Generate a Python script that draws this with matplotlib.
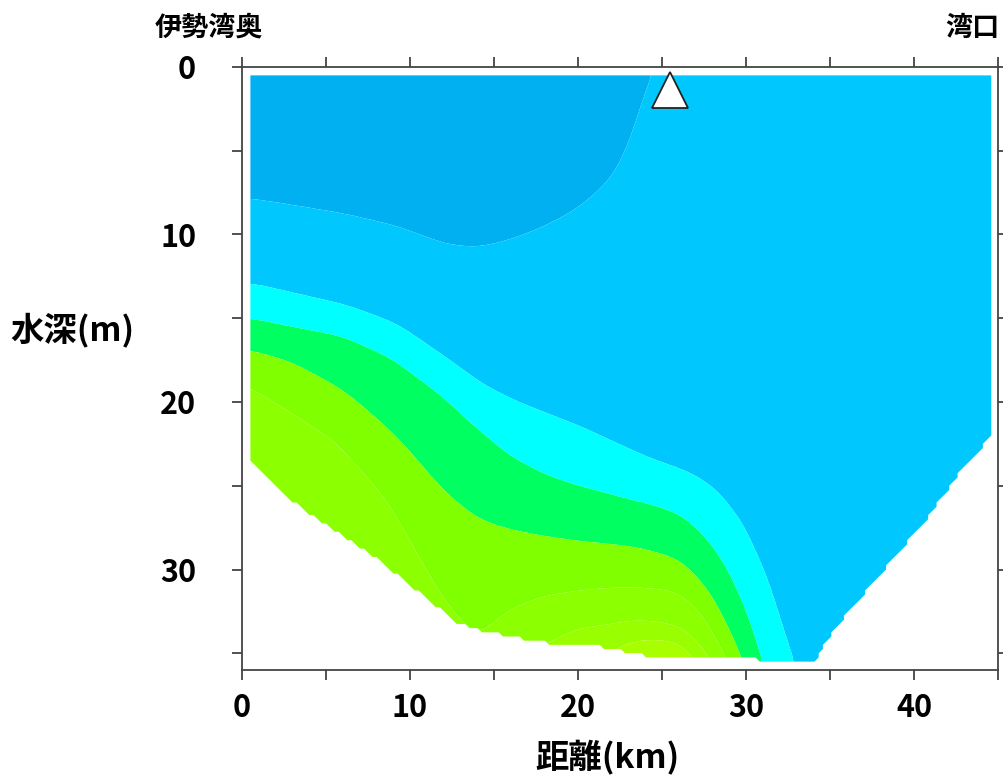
import numpy as np
import matplotlib
matplotlib.use("Agg")
import matplotlib.pyplot as plt

plt.rcParams['font.family'] = ['Noto Sans CJK JP', 'DejaVu Sans']

# ---- data ----
# station positions along the section (km)
stations_km = [0.5, 3, 6, 9, 12, 14, 16, 18, 20, 22, 23, 24, 26, 27.5, 29, 30.5, 32, 33.5, 36, 40, 44.6]
# depths (m) of each class boundary at each station (boundary k separates class k-1 / class k)
b1 = [8.0, 8.4, 8.9, 9.6, 10.7, 10.9, 10.4, 9.6, 8.5, 6.7, 4.8, 0.5, -3, -3, -3, -3, -3, -3, -3, -3, -3]
b2 = [13.0, 13.6, 14.3, 15.4, 17.5, 19.0, 20.0, 20.8, 21.6, 22.6, 23.1, 23.6, 24.3, 25.1, 26.8, 29.8, 34.6, 39, 40, 40, 40]
b3 = [15.0, 15.5, 16.0, 17.3, 19.5, 21.4, 23.2, 24.3, 25.0, 25.5, 25.8, 26.0, 26.6, 27.9, 30.0, 33.6, 39.5, 41, 41, 41, 41]
b4 = [16.9, 17.6, 19.3, 21.9, 25.3, 26.9, 27.6, 28.0, 28.3, 28.5, 28.6, 28.8, 29.4, 31.0, 34.0, 38, 42, 42, 42, 42, 42]
b5 = [18.7, 20.3, 22.3, 25.9, 31.7, 34.2, 32.4, 31.6, 31.3, 31.1, 31.1, 31.1, 31.3, 32.6, 35.3, 39, 43, 43, 43, 43, 43]
b6 = [40, 40, 40, 40, 40, 40, 36, 34.5, 33.5, 33.3, 33.1, 33.1, 33.4, 35.0, 38, 40, 44, 44, 44, 44, 44]
b7 = [41, 41, 41, 41, 41, 41, 41, 37, 36, 35.0, 34.4, 34.2, 34.3, 36, 39, 41, 45, 45, 45, 45, 45]
b8 = [42, 42, 42, 42, 42, 42, 42, 42, 38, 36.5, 35.5, 35.0, 35.1, 37, 40, 42, 46, 46, 46, 46, 46]

# bathymetry (bottom depth, m) along the section
bottom_km = [0.5, 3.45, 5.8, 7.8, 12.8, 13.6, 15.8, 18.3, 21.3, 24.3, 34.2, 34.6, 36.2, 37.8, 39.6, 41.0, 42.7, 44.1, 44.6]
bottom_m = [23.7, 26.4, 28.0, 29.3, 33.3, 33.6, 34.1, 34.5, 34.7, 35.3, 35.6, 34.7, 32.5, 30.7, 28.5, 26.8, 24.4, 22.8, 22.0]

class_colors = ['#00b0f0', '#00c8ff', '#00ffff', '#00ff60', '#80ff00',
                '#8cff00', '#99ff00', '#a8ff00', '#bcff00']

marker_km = 25.5
marker_m = 1.4

x_ticks = [0, 10, 20, 30, 40]
y_ticks = [0, 10, 20, 30]

# ---- build field ----
boundaries = np.array([b1, b2, b3, b4, b5, b6, b7, b8])
st = np.array(stations_km)
xg = np.linspace(0.5, 44.6, 177)
zg = np.linspace(0.5, 35.5, 141)
V = np.zeros((zg.size, xg.size))
for i, xv in enumerate(xg):
    d = [np.interp(xv, st, row) for row in boundaries]
    full = np.concatenate([[-10.0], d, [100.0]])
    V[:, i] = np.interp(zg, full, np.arange(full.size))


def smooth(a, sig, axis):
    r = int(3 * sig) + 1
    k = np.exp(-0.5 * (np.arange(-r, r + 1) / sig) ** 2)
    k /= k.sum()
    pad = [(0, 0), (0, 0)]
    pad[axis] = (r, r)
    ap = np.pad(a, pad, mode='edge')
    return np.apply_along_axis(lambda v: np.convolve(v, k, mode='valid'), axis, ap)


V = smooth(V, 2.5, 1)   # along x (grid cells)
V = smooth(V, 1.2, 0)   # along z

bot = np.interp(xg, bottom_km, bottom_m)
XX, ZZ = np.meshgrid(xg, zg)
mask = ZZ > bot[None, :] + 0.01
Vm = np.ma.array(V, mask=mask)

fig = plt.figure(figsize=(10.04, 7.78), dpi=100)
ax = fig.add_axes([242/1004, 1-670/778, (998-242)/1004, (670-67)/778])
ax.contourf(XX, ZZ, Vm, levels=np.arange(0, 10), colors=class_colors,
            corner_mask=True, antialiased=True)
ax.plot([marker_km], [marker_m], marker='^', markersize=26, markerfacecolor='white',
        markeredgecolor='#222222', markeredgewidth=1.3, linestyle='none', zorder=5)

ax.set_xlim(0, 45)
ax.set_ylim(36, 0)
ax.set_xticks(np.arange(0, 46, 5))
ax.set_xticklabels([str(v) if v in x_ticks else '' for v in range(0, 46, 5)])
ax.set_yticks(np.arange(0, 36, 5))
ax.set_yticklabels([str(v) if v in y_ticks else '' for v in range(0, 36, 5)])
ax.tick_params(direction='out', length=7, width=1.2, color='#333333',
               top=True, right=True, labelsize=22)
ax.tick_params(axis='y', pad=26)
ax.tick_params(axis='x', pad=9)
for lab in ax.get_xticklabels() + ax.get_yticklabels():
    lab.set_fontweight('bold')
for s in ax.spines.values():
    s.set_color('#444444')
    s.set_linewidth(1.3)

fig.text(155/1004, 1-28/778, '伊勢湾奥', fontsize=19.5, fontweight='bold', ha='left', va='center')
fig.text(1000/1004, 1-28/778, '湾口', fontsize=19.5, fontweight='bold', ha='right', va='center')
fig.text(10/1004, 1-330/778, '水深(m)', fontsize=24, fontweight='bold', ha='left', va='center')
fig.text(607/1004, 1-758/778, '距離(km)', fontsize=24, fontweight='bold', ha='center', va='center')

fig.savefig('out.png', dpi=100)
